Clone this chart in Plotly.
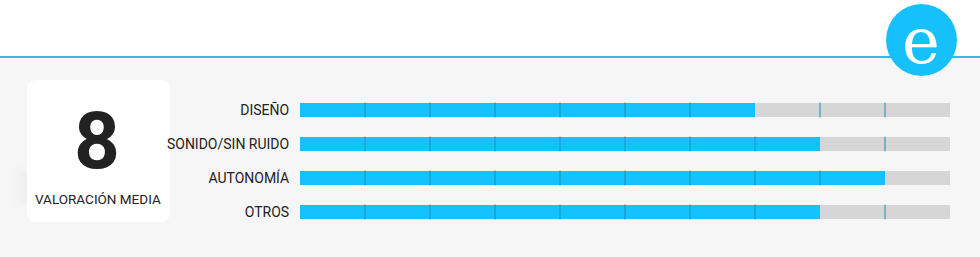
import plotly.graph_objects as go

categories = ["DISEÑO", "SONIDO/SIN RUIDO", "AUTONOMÍA", "OTROS"]
scores = [7, 8, 9, 8]
max_score = 10
average_label = "8"
average_caption = "VALORACIÓN MEDIA"

W, H = 980, 257
BLUE = "#14c3fd"
GREY = "#d6d6d6"
DIV = "#1c8db4"
BG = "#f6f6f6"
FONT = "Roboto, Liberation Sans, sans-serif"

def px(x):
    return x / W

def py(y):
    return 1 - y / H

def rounded_rect(x0, y0, x1, y1, r):
    X = lambda v: f"{px(v):.5f}"
    Y = lambda v: f"{py(v):.5f}"
    return (f"M {X(x0 + r)},{Y(y0)} L {X(x1 - r)},{Y(y0)} Q {X(x1)},{Y(y0)} {X(x1)},{Y(y0 + r)} "
            f"L {X(x1)},{Y(y1 - r)} Q {X(x1)},{Y(y1)} {X(x1 - r)},{Y(y1)} "
            f"L {X(x0 + r)},{Y(y1)} Q {X(x0)},{Y(y1)} {X(x0)},{Y(y1 - r)} "
            f"L {X(x0)},{Y(y0 + r)} Q {X(x0)},{Y(y0)} {X(x0 + r)},{Y(y0)} Z")

ypos = list(range(len(categories)))
fig = go.Figure()
fig.add_trace(go.Bar(
    y=ypos, x=[max_score] * len(categories), orientation="h",
    marker=dict(color=GREY, line=dict(width=0)), width=0.44,
    hoverinfo="skip", showlegend=False))
fig.add_trace(go.Bar(
    y=ypos, x=scores, orientation="h",
    marker=dict(color=BLUE, line=dict(width=0)), width=0.44,
    showlegend=False))

shapes = [
    dict(type="rect", xref="paper", yref="paper", x0=0, x1=1, y0=py(57), y1=1,
         fillcolor="white", line=dict(width=0), layer="below"),
    dict(type="rect", xref="paper", yref="paper", x0=0, x1=1, y0=py(58), y1=py(56),
         fillcolor="#3ab7e2", line=dict(width=0)),
]
# soft shadow left of the score box
for i, a in enumerate([0.005, 0.007, 0.009, 0.011]):
    shapes.append(dict(type="rect", xref="paper", yref="paper",
                       x0=px(13 + i * 3.5), x1=px(28), y0=py(208 - i * 3), y1=py(165 + i * 3),
                       fillcolor=f"rgba(0,0,0,{a})", line=dict(width=0), layer="below"))
shapes += [
    dict(type="path", xref="paper", yref="paper", path=rounded_rect(27, 80, 170, 222, 10),
         fillcolor="white", line=dict(width=0), layer="below"),
    dict(type="circle", xref="paper", yref="paper", x0=px(886), x1=px(957), y0=py(76), y1=py(4),
         fillcolor="#16c1fb", line=dict(width=0)),
]
for i, s in enumerate(scores):
    for k in range(1, max_score):
        if k == s:
            continue
        shapes.append(dict(type="line", xref="x", yref="y", x0=k, x1=k,
                           y0=i - 0.22, y1=i + 0.22, line=dict(color=DIV, width=1)))

annotations = [
    dict(text=average_label, xref="paper", yref="paper", x=px(97), y=py(141),
         xanchor="center", yanchor="middle", showarrow=False,
         font=dict(family=FONT, size=80, color="#222222", weight="bold")),
    dict(text=average_caption, xref="paper", yref="paper", x=px(98), y=py(199),
         xanchor="center", yanchor="middle", showarrow=False,
         font=dict(family=FONT, size=13.5, color="#222222")),
    dict(text="e", xref="paper", yref="paper", x=px(921), y=py(41),
         xanchor="center", yanchor="middle", showarrow=False, height=56,
         font=dict(family="DejaVu Serif, Liberation Serif, serif", size=64, color="white")),
]

fig.update_layout(
    width=W, height=H, margin=dict(l=0, r=0, t=0, b=0),
    paper_bgcolor=BG, plot_bgcolor="rgba(0,0,0,0)",
    barmode="overlay", bargap=0,
    shapes=shapes, annotations=annotations,
    xaxis=dict(range=[0, max_score], domain=[px(300), px(950)], visible=False, fixedrange=True),
    yaxis=dict(range=[len(categories) - 0.5, -0.5], domain=[py(229), py(93)],
               tickvals=ypos, ticktext=categories, showgrid=False, zeroline=False,
               showline=False, ticks="outside", ticklen=7, tickcolor="rgba(0,0,0,0)",
               tickfont=dict(family=FONT, size=14, color="#222222"), fixedrange=True),
)
fig.write_html("out.html")
